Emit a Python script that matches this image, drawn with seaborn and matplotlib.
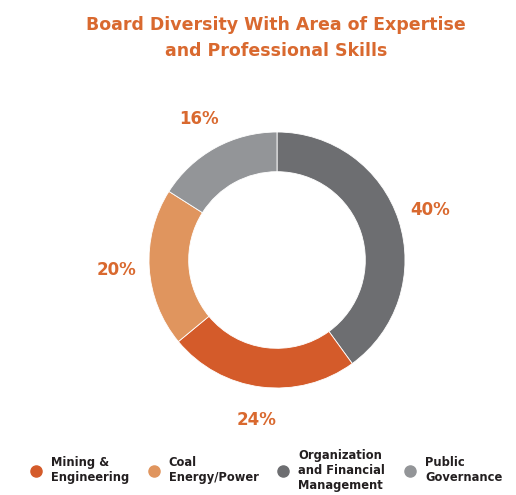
import matplotlib
matplotlib.use("Agg")
import matplotlib.pyplot as plt
from matplotlib.lines import Line2D
import seaborn as sns

# data (clockwise from 12 o'clock)
categories = ["Organization\nand Financial\nManagement", "Mining &\nEngineering", "Coal\nEnergy/Power", "Public\nGovernance"]
shares = [40, 24, 20, 16]
colors = ["#6D6E71", "#D45B2A", "#E0955E", "#939598"]
legend_order = [1, 2, 0, 3]

title_color = "#D9692F"

sns.set_theme(style="white")
plt.rcParams["font.family"] = ["DejaVu Sans"]
pal = sns.color_palette(colors)

fig = plt.figure(figsize=(5.16, 4.95), dpi=100)
ax = fig.add_axes([149 / 516, (495 - 260 - 128) / 495, 256 / 516, 256 / 495])

wedges, texts, autotexts = ax.pie(
    shares, colors=pal, startangle=90, counterclock=False,
    wedgeprops=dict(width=0.31, edgecolor="white", linewidth=0.6),
    autopct=lambda p: f"{p:.0f}%", pctdistance=1.26,
    textprops=dict(color=title_color, fontsize=12, fontweight="bold"),
)
ax.set_aspect("equal")
ax.set_xlim(-1, 1)
ax.set_ylim(-1, 1)

fig.text(0.535, 0.968, "Board Diversity With Area of Expertise\nand Professional Skills",
         ha="center", va="top", color=title_color, fontsize=12.5, fontweight="bold",
         linespacing=1.55)

handles = [Line2D([], [], marker="o", linestyle="", markersize=8,
                  markerfacecolor=colors[i], markeredgecolor=colors[i]) for i in legend_order]
labels = [categories[i] for i in legend_order]
fig.legend(handles, labels, loc="center", bbox_to_anchor=(0.51, 0.05), ncol=4,
           frameon=False, handletextpad=0.3, columnspacing=1.15,
           prop=dict(size=8.3, weight="bold"), labelcolor="#231F20")

fig.savefig("out.png", dpi=100, facecolor="white")
